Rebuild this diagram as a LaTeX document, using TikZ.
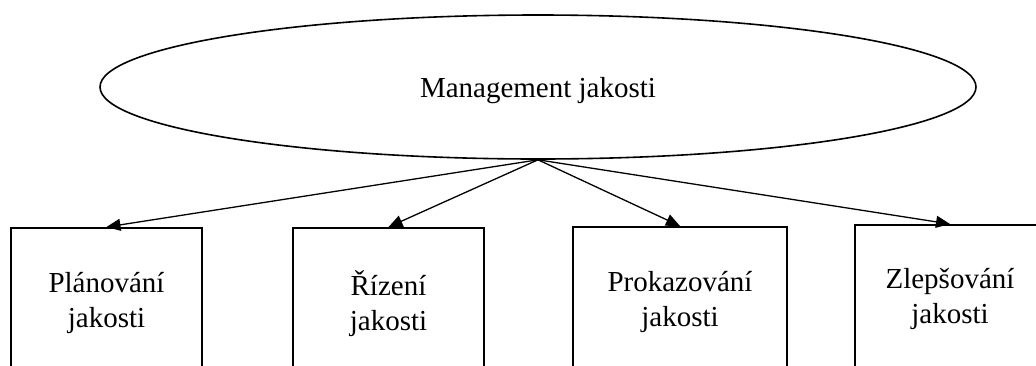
\documentclass[tikz,border=0pt]{standalone}
\usepackage{fontspec}
\setmainfont{Liberation Serif}
\usetikzlibrary{arrows.meta,shapes.geometric}
\begin{document}
\begin{tikzpicture}[x=1pt,y=-1pt,
  txt/.style={font=\fontsize{29}{35}\selectfont},
  box/.style={draw, line width=2pt, minimum width=191pt, anchor=north, align=center, inner sep=0pt, txt},
  link/.style={line width=1.3pt, -{Triangle[length=14pt,width=12pt]}}]
\useasboundingbox (0,0) rectangle (1036,365);
\clip (0,0) rectangle (1036,365);
\node[draw, ellipse, line width=1.6pt, minimum width=876pt, minimum height=144pt, inner sep=0pt, text height=26pt, text depth=6pt, txt] (m) at (538,87) {Management jakosti};
\node[box, minimum height=150pt] (b1) at (106.5,227) {Plánování\\jakosti};
\node[box, minimum height=152pt] (b2) at (388.5,227) {Řízení\\jakosti};
\node[box, minimum width=214pt, minimum height=150pt] (b3) at (680,226) {Prokazování\\jakosti};
\node[box, minimum height=148pt] (b4) at (950,224) {Zlepšování\\jakosti};
\draw[link] (m.south) -- (b1.north);
\draw[link] (m.south) -- (b2.north);
\draw[link] (m.south) -- (b3.north);
\draw[link] (m.south) -- (b4.north);
\end{tikzpicture}
\end{document}
